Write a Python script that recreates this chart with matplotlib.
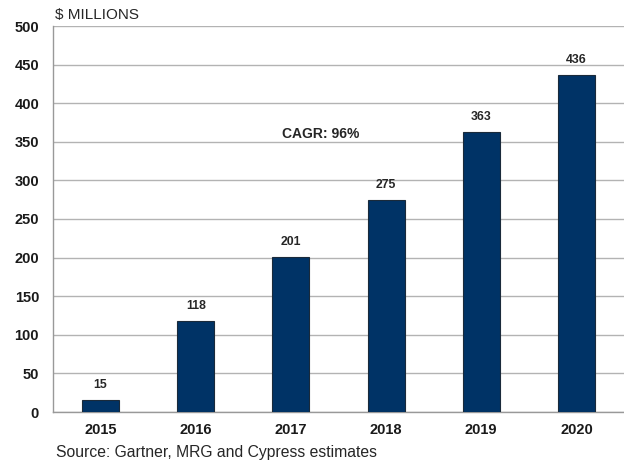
import matplotlib
matplotlib.use("Agg")
import matplotlib.pyplot as plt

years = ["2015", "2016", "2017", "2018", "2019", "2020"]
revenue = [15, 118, 201, 275, 363, 436]
y_ticks = [0, 50, 100, 150, 200, 250, 300, 350, 400, 450, 500]

plt.rcParams["font.family"] = ["Liberation Sans", "DejaVu Sans"]

fig = plt.figure(figsize=(6.24, 4.62), dpi=100)
ax = fig.add_axes([53 / 624, 50 / 462, 1 - 53 / 624, 386 / 462])

x = list(range(len(years)))
ax.bar(x, revenue, width=0.39, color="#003366", edgecolor="#1a2a3a",
       linewidth=0.8, zorder=3)

for xi, v in zip(x, revenue):
    ax.annotate(str(v), (xi, v), xytext=(0, 6.5), textcoords="offset points",
                ha="center", va="bottom", fontsize=8.8, fontweight="bold",
                color="#262626")

ax.set_xlim(-0.5, 5.5)
ax.set_ylim(0, 500)
ax.set_yticks(y_ticks)
ax.set_xticks(x)
ax.set_xticklabels(years)
ax.tick_params(axis="both", length=0, labelsize=10.5, labelcolor="#1a1a1a")
ax.tick_params(axis="y", pad=10)
ax.tick_params(axis="x", pad=8)
for lbl in ax.get_xticklabels() + ax.get_yticklabels():
    lbl.set_fontweight("bold")

ax.yaxis.grid(True, color="#b3b3b3", linewidth=1.0, zorder=0)
ax.set_axisbelow(True)
for side in ("top", "right"):
    ax.spines[side].set_visible(False)
for side in ("left", "bottom"):
    ax.spines[side].set_color("#999999")
    ax.spines[side].set_linewidth(1.0)

ax.text(2.31, 360, "CAGR: 96%", ha="center", va="center", fontsize=10,
        fontweight="bold", color="#262626")

fig.text(55 / 624, 1 - 15 / 462, "$ MILLIONS", ha="left", va="center",
         fontsize=11, color="#262626")
fig.text(56 / 624, 1 - 453 / 462, "Source: Gartner, MRG and Cypress estimates",
         ha="left", va="center", fontsize=11.3, color="#262626")

fig.savefig("out.png", dpi=100)
